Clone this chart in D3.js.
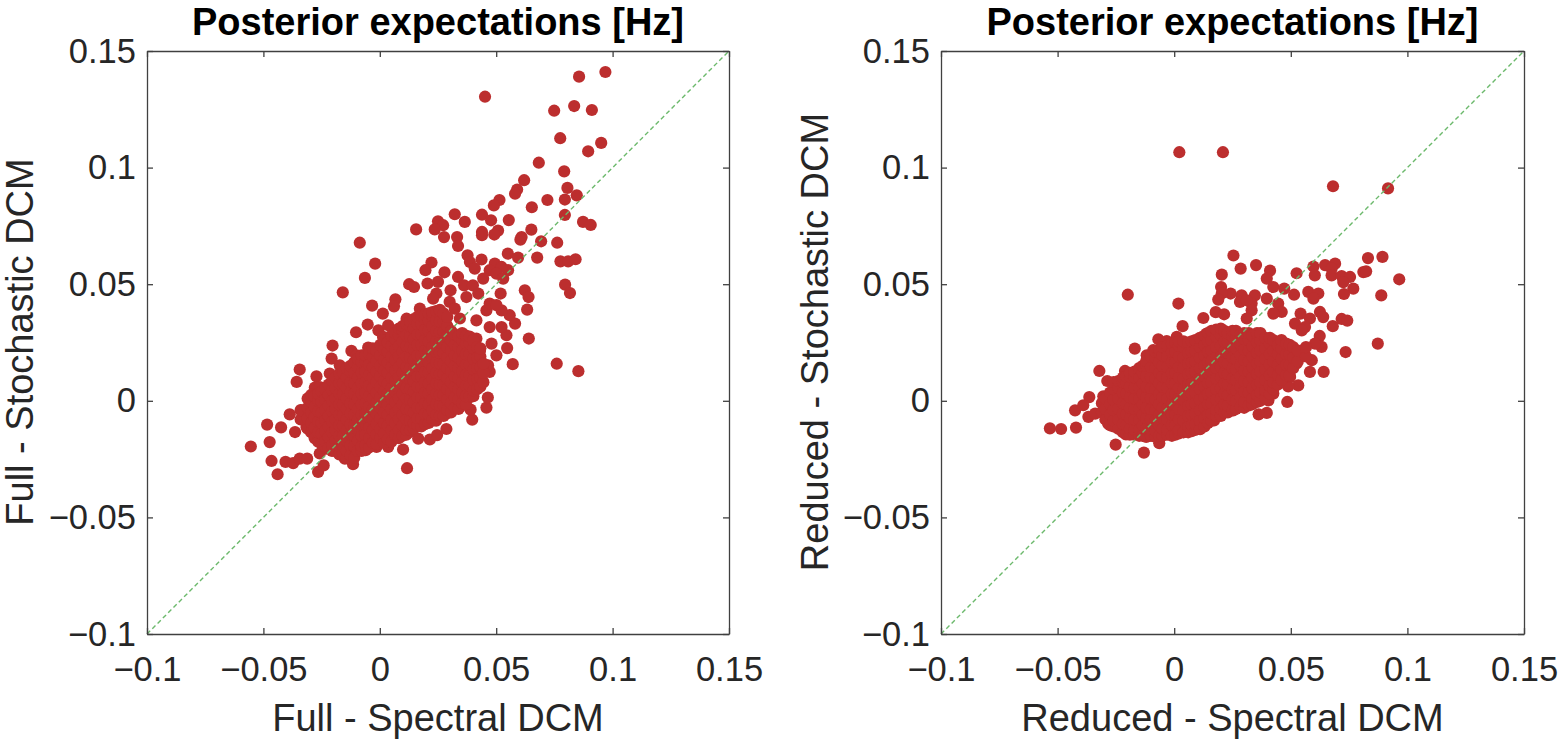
<!DOCTYPE html>
<html><head><meta charset="utf-8">
<script src="https://cdn.jsdelivr.net/npm/d3@7"></script>
<style>
html,body{margin:0;padding:0;background:#fff;overflow:hidden}
text{font-family:"Liberation Sans",Arial,sans-serif;fill:#262626}
</style></head><body>
<script>
const tickValues = [-0.1,-0.05,0,0.05,0.1,0.15];
const tickLabels = ["\u22120.1","\u22120.05","0","0.05","0.1","0.15"];
const chartTitle = "Posterior expectations [Hz]";
const axisLabels = [["Full - Spectral DCM","Full - Stochastic DCM"],["Reduced - Spectral DCM","Reduced - Stochastic DCM"]];

// Isolated points, read one by one: [spectral, stochastic]
const fullOutliers = [
[.0969,.141],[.0856,.139],[.0452,.1304],[.0749,.1244],[.0835,.1264],[.0911,.1247],[.0775,.1126],[.0951,.1106],[.0895,.107],[.0683,.1021],
[.0792,.0984],[.062,.0946],[.0806,.0913],[.059,.0906],[.0581,.0888],[.0846,.0881],[.0795,.0863],[.072,.0861],[.0514,.0861],[.049,.0838],
[.0653,.083],[.0795,.0797],[.0322,.08],[.0439,.0798],[.0478,.0774],[.0554,.0775],[.0365,.0767],[.025,.077],[.0873,.0767],[.0906,.0754],
[.0272,.0753],[.0236,.0735],[.0156,.0735],[.0651,.0734],[.0508,.073],[.0492,.0713],[.0439,.0724],[.0439,.071],[.0332,.0702],[.0276,.0702],
[.0609,.0702],[.0604,.0691],[.0693,.0684],[.0762,.0678],[-.0086,.0678],[.0336,.0664],[-.002,.0588],[-.0064,.0527],[-.0159,.0465],
[.0676,.0614],[.055,.0631],[.0594,.0614],[.0776,.0598],[.0809,.0598],[.0841,.0607],[.0796,.0498],[.0817,.0462],
[.0377,.0624],[.0387,.0595],[.0408,.0567],[.0437,.0606],[.0494,.0588],[.0472,.056],[.0551,.056],[.0523,.0574],[.0501,.0545],[.0444,.0524],[.053,.0524],[.0336,.0531],
[.0222,.0593],[.0196,.056],[.0278,.0551],[.0205,.0503],[.025,.051],[.0126,.05],[.0147,.0488],[.0304,.0474],[.0243,.046],
[.0362,.0495],[.04,.0495],[.0372,.0445],[.0423,.046],[.0519,.046],[.0623,.0474],[.0639,.0445],[.0633,.0391],[.064,.0267],[.076,.0159],[.0853,.0127],
[.0571,.0157],[.0547,.0226],[.0581,.0331],[.0544,.0281],[.0523,.0316],[.0558,.0367],[.0523,.0388],[.0472,.0316],[.0458,.0388],[.0472,.0417],[.0501,.041],
[.0344,.0353],[.0415,.0345],[.03,.0424],[.0322,.0395],[.0067,.0435],[.0061,.0405],[-.0033,.0408],[.0013,.0374],[-.0052,.0327],[-.0102,.0294],[-.0006,.0302],[.0036,.0324],
[-.0203,.0237],[-.0207,.0181],[-.0122,.0214],[-.005,.0228],[-.0344,.0134],[-.0357,.0081],[-.0272,.0105],[-.0279,.0057],[-.0387,-.0058],
[-.0484,-.0102],[-.0424,-.0114],[-.0364,-.0134],[-.0473,-.0177],[-.0554,-.0196],[-.0465,-.0258],[-.0405,-.0262],[-.0372,-.0267],[-.0344,-.0248],[-.0312,-.0248],
[-.0439,-.0315],[-.0265,-.0305],[-.0241,-.0277],[-.0258,-.0226],[.0117,-.0289],[-.0115,-.0272],[-.015,-.0248],[-.0061,-.0212],[.01,-.0209],[.0036,-.0198],[-.0014,-.0198],
[.0165,-.0162],[.0215,-.0166],[.0246,-.0147],[.0286,-.0121],[.0397,-.0081],[.039,-.0038],[.0458,-.0029],[.0464,.0014],[.0422,.0059],[.0472,.0124],[.0465,.0152],
[.0501,.0195],[.048,.0245],[.043,.0214],
// rim of the dense core
[-.0029,-.0184],[.0057,-.0162],[.0129,-.0134],[.0186,-.0098],[.0229,-.0084],[.0286,-.0055],[.0344,-.0027],[.0387,.0016],[.0415,.0102],[.0444,.0131],[.04,.0202],[.0415,.0267],[.0351,.0274],
[.0229,.0438],[.0172,.0395],[.0115,.0352],[.0086,.031],[.0014,.0274],[-.0043,.0224],[-.01,.0195],[-.0172,.0152],[-.0215,.0117],[-.0258,.0059],[-.0301,-.0005],[-.0336,-.0041],[-.0315,-.0112],[-.0265,-.0169],[-.0229,-.0205],[-.0143,-.022]
];
// Dense core, read column by column: [spectral, stochastic, stochastic, ...]
const fullCore = [
[-.034,-.008,-.004],
[-.031,-.012,-.0075,-.003,.001],
[-.0295,-.0135,-.0095,-.005,-.0005,.0025],
[-.028,-.016,-.0115,-.007,-.0025,.002],
[-.0265,-.0175,-.0135,-.009,-.0045,0,.003],
[-.025,-.0185,-.014,-.0095,-.005,-.0005,.004],
[-.0235,-.0195,-.0175,-.013,-.0085,-.004,.0005,.005],
[-.022,-.02,-.0155,-.011,-.0065,-.002,.0025,.007],
[-.0205,-.0215,-.019,-.0135,-.009,-.0045,0,.0045,.0085],
[-.019,-.0215,-.017,-.0125,-.008,-.0035,.001,.0055,.01],
[-.0174,-.023,-.0195,-.015,-.0105,-.006,-.0015,.003,.0075,.0115],
[-.0158,-.0225,-.0195,-.015,-.0105,-.006,-.0015,.003,.0075,.012],
[-.0142,-.0245,-.0215,-.017,-.0125,-.008,-.0035,.001,.0055,.01,.014],
[-.0126,-.0235,-.019,-.0145,-.01,-.0055,-.001,.0035,.008,.0125,.015],
[-.011,-.0245,-.0195,-.015,-.0105,-.006,-.0015,.003,.0075,.012,.0165],
[-.0094,-.0215,-.017,-.0125,-.008,-.0035,.001,.0055,.01,.0145,.018],
[-.0078,-.0215,-.0195,-.015,-.0105,-.006,-.0015,.003,.0075,.012,.0165,.0195],
[-.0062,-.019,-.0145,-.01,-.0055,-.001,.0035,.008,.0125,.017,.0195],
[-.0046,-.02,-.016,-.0115,-.007,-.0025,.002,.0065,.011,.0155,.02],
[-.003,-.018,-.0125,-.008,-.0035,.001,.0055,.01,.0145,.019,.0225],
[-.0014,-.0185,-.0145,-.01,-.0055,-.001,.0035,.008,.0125,.017,.0215],
[.0002,-.016,-.012,-.0075,-.003,.0015,.006,.0105,.015,.0195,.024],
[.0018,-.018,-.014,-.0095,-.005,-.0005,.004,.0085,.013,.0175,.022,.026],
[.0034,-.0165,-.0105,-.006,-.0015,.003,.0075,.012,.0165,.021,.025],
[.005,-.0175,-.0125,-.008,-.0035,.001,.0055,.01,.0145,.019,.0235,.028],
[.0066,-.0145,-.0095,-.005,-.0005,.004,.0085,.013,.0175,.022,.0265,.029],
[.0082,-.016,-.0125,-.008,-.0035,.001,.0055,.01,.0145,.019,.0235,.028,.031],
[.0098,-.015,-.0105,-.006,-.0015,.003,.0075,.012,.0165,.021,.0255,.03,.032],
[.0114,-.0145,-.0125,-.008,-.0035,.001,.0055,.01,.0145,.019,.0235,.028,.033],
[.013,-.0125,-.0085,-.004,.0005,.005,.0095,.014,.0185,.023,.0275,.032,.034],
[.0146,-.012,-.0095,-.005,-.0005,.004,.0085,.013,.0175,.022,.0265,.031,.035],
[.0162,-.0105,-.0075,-.003,.0015,.006,.0105,.015,.0195,.024,.0285,.033,.036],
[.0178,-.011,-.0075,-.003,.0015,.006,.0105,.015,.0195,.024,.0285,.033,.0365],
[.0194,-.01,-.0055,-.001,.0035,.008,.0125,.017,.0215,.026,.0305,.035,.037],
[.021,-.0095,-.006,-.0015,.003,.0075,.012,.0165,.021,.0255,.03,.0345,.0375],
[.0226,-.008,-.004,.0005,.005,.0095,.014,.0185,.023,.0275,.032,.0365,.038],
[.0242,-.0085,-.006,-.0015,.003,.0075,.012,.0165,.021,.0255,.03,.0345,.0385],
[.0258,-.0065,-.002,.0025,.007,.0115,.016,.0205,.025,.0295,.034,.0385,.039],
[.0274,-.0065,-.002,.0025,.007,.0115,.016,.0205,.025,.0295,.034,.0375],
[.029,-.004,.0005,.005,.0095,.014,.0185,.023,.0275,.032,.036],
[.0306,-.005,-.001,.0035,.008,.0125,.017,.0215,.026,.03],
[.0322,-.003,.0015,.006,.0105,.015,.0195,.024,.0285],
[.0338,-.0035,.0005,.005,.0095,.014,.0185,.023,.0275],
[.0354,-.001,.0035,.008,.0125,.017,.0215,.026,.029],
[.037,-.0015,.002,.0065,.011,.0155,.02,.0245,.028],
[.0386,.002,.0065,.011,.0155,.02,.0245,.0275],
[.0402,.002,.0045,.009,.0135,.018,.0225,.026],
[.0418,.005,.0095,.014,.0185,.023],
[.0432,.006,.01,.0145,.019,.0225],
[.0445,.008,.012,.016]
];
const reducedOutliers = [
[.0022,.1066],[.0209,.1066],[.0681,.092],[.0917,.0911],[.0254,.0623],[.0831,.0612],[.0893,.0617],[.0351,.0582],[.0285,.0567],[.0411,.0558],[.0204,.0541],[.0525,.0547],
[.0597,.0576],[.0603,.0538],[.0647,.0582],[.069,.0588],[.0675,.0567],[.0675,.0538],[.0718,.0535],[.0754,.0531],[.0725,.0509],[.0811,.0552],[.0823,.0555],[.0965,.0521],
[.0768,.0481],[.0728,.0458],[.0888,.0452],[-.0199,.0455],[.0018,.0417],[.0397,.0524],[.0425,.0488],[.0472,.0481],[.0514,.0455],[.0575,.0467],[.0618,.046],[.0597,.0438],
[.0201,.0488],[.0242,.046],[.0204,.046],[.0189,.0434],[.0289,.0452],[.0346,.0452],[.0282,.0424],[.0397,.0438],[.0332,.0417],[.0311,.0431],
[.0446,.0417],[.0461,.0381],[.0425,.0374],[.0332,.0388],[.0311,.0353],[.0125,.0355],[.0178,.038],[.0214,.0371],[.0036,.032],
[.0542,.0374],[.0582,.0353],[.0561,.0316],[.0518,.0331],[.0547,.0302],[.0625,.0381],[.0639,.0359],[.068,.032],[.0718,.0351],[.0742,.0344],
[.0624,.0278],[.0632,.0231],[.0604,.0245],[.0735,.0209],[.0873,.0245],[.0641,.0124],[.059,.0174],[.0582,.0124],[.0532,.0066],[.0489,.0062],[.0485,-.0005],
[.0397,-.0052],[.0362,-.0058],[.0404,.0002],[-.0068,.0264],[-.0032,.0256],[-.0169,.0224],[-.0118,.0195],[-.0321,.0128],[-.0287,.0085],[-.0211,.0128],
[-.0364,.0016],[-.0304,.0019],[-.0425,-.0041],[-.039,-.0019],[-.0368,-.0069],[-.0339,-.0055],[-.0533,-.0118],[-.0485,-.0121],[-.0421,-.0115],
[-.0251,-.0188],[-.013,-.0222],[-.0064,-.0182],[-.0207,-.0144],[-.0283,-.0098],[.0111,-.0122],[.0039,-.0134],[.0171,-.0084],
// rim of the dense core
[.044,.0095],[.0425,.0031],[.0339,-.0005],[.0253,-.0041],[.0196,-.0055],[.0497,.0102],[.0525,.016],[.0468,.0174],[.0554,.0217],[.048,.012],
[-.0218,.0088],[-.0275,.0031],[-.009,.0217],[.0011,.0274],[.0139,.0288]
];
const reducedCore = [
[-.031,-.005,-.001],
[-.0295,-.008,-.0035,.001],
[-.0275,-.0105,-.006,-.0015,.0035],
[-.026,-.011,-.0085,-.004,.0005,.005,.008],
[-.024,-.012,-.008,-.0035,.001,.0055,.0085],
[-.022,-.0135,-.01,-.0055,-.001,.0035,.008,.01],
[-.0205,-.014,-.0105,-.006,-.0015,.003,.0075,.0105],
[-.019,-.0145,-.012,-.0075,-.003,.0015,.006,.0105,.012],
[-.017,-.0145,-.0125,-.008,-.0035,.001,.0055,.01,.0125],
[-.015,-.015,-.0125,-.008,-.0035,.001,.0055,.01,.014],
[-.0135,-.015,-.0105,-.006,-.0015,.003,.0075,.012,.015],
[-.012,-.0155,-.012,-.0075,-.003,.0015,.006,.0105,.015,.017],
[-.01,-.015,-.0125,-.008,-.0035,.001,.0055,.01,.0145,.019],
[-.008,-.0155,-.013,-.0085,-.004,.0005,.005,.0095,.014,.0185,.021],
[-.0065,-.015,-.0105,-.006,-.0015,.003,.0075,.012,.0165,.0205,.022],
[-.005,-.015,-.012,-.0075,-.003,.0015,.006,.0105,.015,.0195,.023],
[-.003,-.0145,-.0125,-.008,-.0035,.001,.0055,.01,.0145,.019,.0235],
[-.001,-.015,-.0105,-.006,-.0015,.003,.0075,.012,.0165,.021,.0245],
[.0005,-.0145,-.0105,-.006,-.0015,.003,.0075,.012,.0165,.021,.025],
[.002,-.014,-.0125,-.008,-.0035,.001,.0055,.01,.0145,.019,.0235,.0255],
[.004,-.0135,-.0085,-.004,.0005,.005,.0095,.014,.0185,.023,.0255],
[.006,-.0135,-.011,-.0065,-.002,.0025,.007,.0115,.016,.0205,.025],
[.0075,-.013,-.0105,-.006,-.0015,.003,.0075,.012,.0165,.021,.0255],
[.009,-.0125,-.01,-.0055,-.001,.0035,.008,.0125,.017,.0215,.026],
[.011,-.012,-.0085,-.004,.0005,.005,.0095,.014,.0185,.023,.027],
[.013,-.011,-.0075,-.003,.0015,.006,.0105,.015,.0195,.024,.028],
[.0145,-.0095,-.006,-.0015,.003,.0075,.012,.0165,.021,.0255,.029],
[.016,-.0085,-.0055,-.001,.0035,.008,.0125,.017,.0215,.026,.03],
[.018,-.0065,-.004,.0005,.005,.0095,.014,.0185,.023,.0275,.0305],
[.02,-.0065,-.0035,.001,.0055,.01,.0145,.019,.0235,.028,.031],
[.0215,-.005,-.0015,.003,.0075,.012,.0165,.021,.0255,.03],
[.023,-.005,-.002,.0025,.007,.0115,.016,.0205,.025,.029],
[.025,-.004,.0005,.005,.0095,.014,.0185,.023,.0275,.03],
[.0265,-.0035,0,.0045,.009,.0135,.018,.0225,.027,.03],
[.0285,-.0025,.0015,.006,.0105,.015,.0195,.024,.0285],
[.03,-.003,-.0005,.004,.0085,.013,.0175,.022,.0265,.029],
[.032,-.002,.0035,.008,.0125,.017,.0215,.026,.029],
[.0335,-.0015,.001,.0055,.01,.0145,.019,.0235,.028],
[.0355,-.0005,.0025,.007,.0115,.016,.0205,.025,.029],
[.037,0,.0035,.008,.0125,.017,.0215,.026,.029],
[.039,.001,.0045,.009,.0135,.018,.0225,.027],
[.041,.003,.0065,.011,.0155,.02,.0245,.027],
[.0425,.005,.008,.0125,.017,.0215,.026],
[.0445,.007,.011,.0155,.02,.024],
[.046,.009,.0135,.018,.0225,.026],
[.048,.011,.0155,.02,.0245],
[.0495,.011,.0155,.02,.024],
[.051,.014,.0185,.023],
[.053,.017,.0215],
[.0565,.019,.023]
];

const expand = cols => cols.flatMap(([x,...ys]) => ys.map(y => [x,y]));
const panels = [
  {left:147, right:729, labels:axisLabels[0], pts:fullOutliers.concat(expand(fullCore)), yLabelX:33},
  {left:941, right:1524, labels:axisLabels[1], pts:reducedOutliers.concat(expand(reducedCore)), yLabelX:828}
];
const plotTop=51, plotBottom=634, axisColor="#404040", dotColor="#BC2E2E", lineColor="#6CB96C";
const svg = d3.select("body").append("svg").attr("width",1558).attr("height",742).style("display","block");

panels.forEach(p=>{
  const x=d3.scaleLinear().domain([-0.1,0.15]).range([p.left,p.right]);
  const y=d3.scaleLinear().domain([-0.1,0.15]).range([plotBottom,plotTop]);
  const g=svg.append("g");
  const fmt=v=>tickLabels[tickValues.indexOf(v)];
  const style=a=>{
    a.selectAll("path,line").attr("stroke",axisColor).attr("stroke-width",1.3);
    a.selectAll("text").attr("font-size",34.5).style("fill","#262626");
  };
  g.selectAll("circle").data(p.pts).join("circle")
    .attr("cx",d=>x(d[0])).attr("cy",d=>y(d[1])).attr("r",6.1).attr("fill",dotColor);
  g.append("line").attr("x1",x(-0.1)).attr("y1",y(-0.1)).attr("x2",x(0.15)).attr("y2",y(0.15))
    .attr("stroke",lineColor).attr("stroke-width",1.4).attr("stroke-dasharray","4.5 3");
  g.append("g").attr("transform",`translate(0,${plotBottom})`).call(d3.axisBottom(x).tickValues(tickValues).tickFormat(fmt).tickSizeInner(-6).tickSizeOuter(0).tickPadding(23)).call(style);
  g.append("g").attr("transform",`translate(0,${plotTop})`).call(d3.axisTop(x).tickValues(tickValues).tickFormat("").tickSizeInner(-6).tickSizeOuter(0)).call(style);
  g.append("g").attr("transform",`translate(${p.left},0)`).call(d3.axisLeft(y).tickValues(tickValues).tickFormat(fmt).tickSizeInner(-6).tickSizeOuter(0).tickPadding(11)).call(style);
  g.append("g").attr("transform",`translate(${p.right},0)`).call(d3.axisRight(y).tickValues(tickValues).tickFormat("").tickSizeInner(-6).tickSizeOuter(0)).call(style);
  const cx=(p.left+p.right)/2;
  svg.append("text").attr("x",cx).attr("y",34.6).attr("text-anchor","middle").attr("font-size",38).attr("font-weight","bold").style("fill","#000").text(chartTitle);
  svg.append("text").attr("x",cx).attr("y",731).attr("text-anchor","middle").attr("font-size",38).text(p.labels[0]);
  svg.append("text").attr("transform",`translate(${p.yLabelX},342) rotate(-90)`).attr("text-anchor","middle").attr("font-size",38).text(p.labels[1]);
});
</script>
</body></html>
